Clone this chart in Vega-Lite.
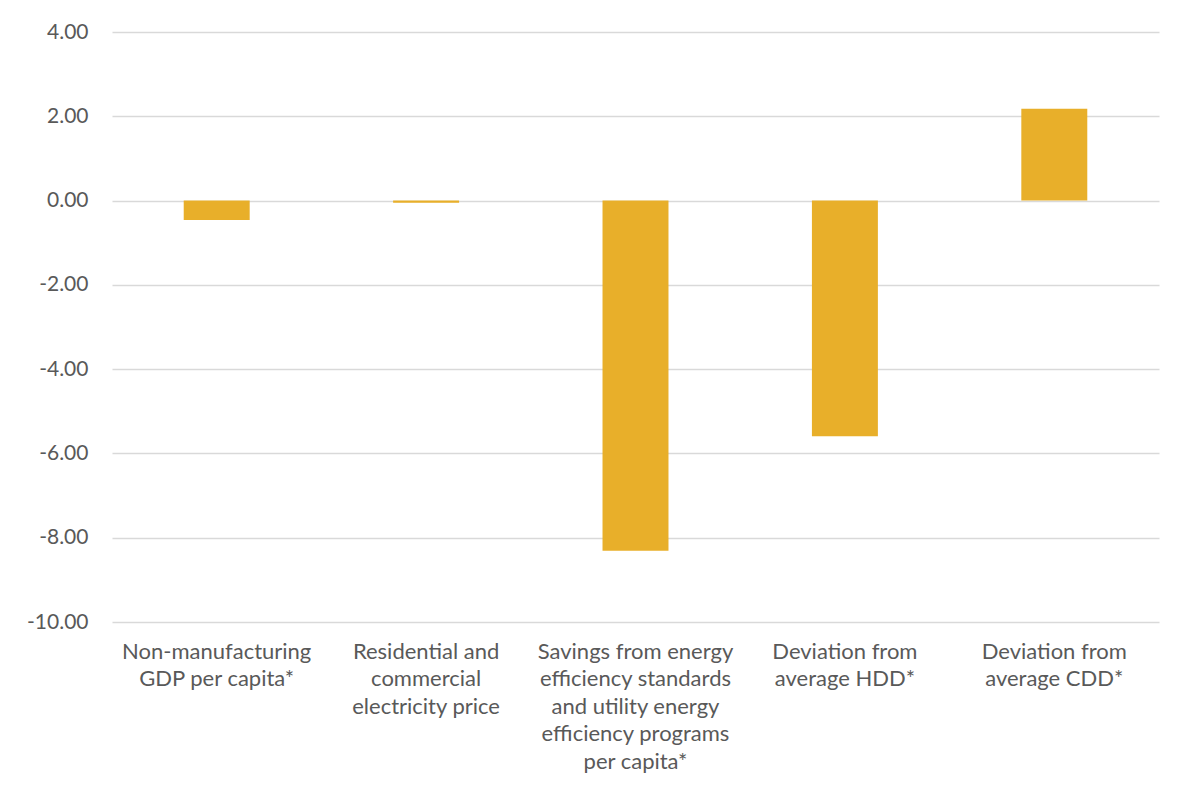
{
  "$schema": "https://vega.github.io/schema/vega-lite/v6.json",
  "width": 1047,
  "height": 590,
  "autosize": {"type": "none"},
  "padding": {"left": 112, "top": 32, "right": 29, "bottom": 163},
  "background": "white",
  "config": {
    "view": {"stroke": null},
    "font": "Lato",
    "axis": {"labelColor": "#595959", "labelFont": "Lato", "labelFontSize": 21, "gridColor": "#d9d9d9", "gridWidth": 1.5, "domain": false, "ticks": false}
  },
  "data": {
    "values": [
      {"factor": "Non-manufacturing\nGDP per capita*", "value": -0.46},
      {"factor": "Residential and\ncommercial\nelectricity price", "value": -0.05},
      {"factor": "Savings from energy\nefficiency standards\nand utility energy\nefficiency programs\nper capita*", "value": -8.31},
      {"factor": "Deviation from\naverage HDD*", "value": -5.59},
      {"factor": "Deviation from\naverage CDD*", "value": 2.18}
    ]
  },
  "mark": {"type": "bar", "color": "#E8AF2A"},
  "encoding": {
    "x": {
      "field": "factor",
      "type": "nominal",
      "sort": null,
      "title": null,
      "scale": {"paddingInner": 0.685, "paddingOuter": 0.3425},
      "axis": {"labelAngle": 0, "labelExpr": "split(datum.value, '\\n')", "labelFontSize": 22, "labelLimit": 0, "labelLineHeight": 27.5, "labelPadding": 19, "grid": false, "labelBaseline": "top"}
    },
    "y": {
      "field": "value",
      "type": "quantitative",
      "title": null,
      "scale": {"domain": [-10, 4], "nice": false, "zero": false},
      "axis": {"values": [-10, -8, -6, -4, -2, 0, 2, 4], "labelExpr": "replace(format(datum.value, '.2f'), '\u2212', '-')", "labelPadding": 24, "grid": true}
    }
  }
}
